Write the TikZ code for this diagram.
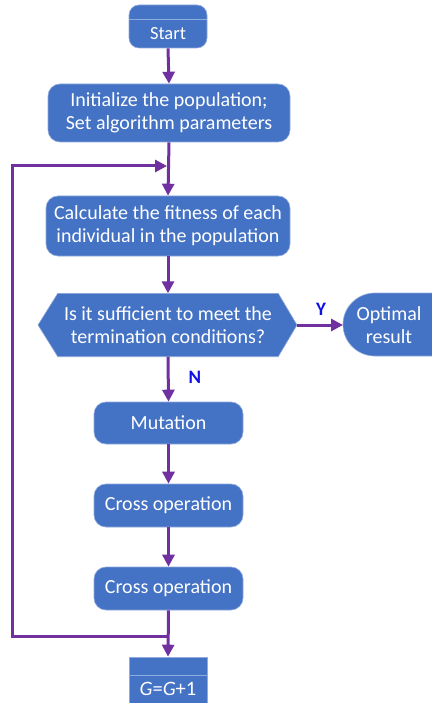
\documentclass[tikz,border=0pt]{standalone}
\usepackage{fontspec}
\setmainfont{Carlito}
\usetikzlibrary{arrows.meta}
\definecolor{boxblue}{HTML}{4472C4}
\definecolor{edgeblue}{HTML}{8FAADC}
\definecolor{arrowpurple}{HTML}{7030A0}
\definecolor{labblue}{HTML}{1010E8}
\tikzset{
  proc/.style={draw=edgeblue, line width=0.6pt, fill=boxblue, rounded corners=12pt,
    text=white, font=\fontsize{20}{23}\selectfont, align=center, inner sep=0pt},
  sqbox/.style={draw=edgeblue, line width=0.6pt, fill=boxblue, inner sep=0pt},
  wtxt/.style={text=white, font=\fontsize{20}{23}\selectfont, align=center, inner sep=0pt},
  arr/.style={draw=arrowpurple, line width=3pt, -{Triangle[length=12pt,width=12pt]}},
  yn/.style={text=labblue, font=\fontsize{19}{21}\selectfont\bfseries, inner sep=0pt}
}
\begin{document}
\begin{tikzpicture}[x=1pt,y=-1pt]
\useasboundingbox (0,0) rectangle (431,703);
% Start
\node[proc, rounded corners=10pt, minimum width=78pt, minimum height=43pt] (start) at (168,26.5) {};
\draw[edgeblue, line width=0.8pt] (start.west |- 0,19) -- (start.east |- 0,19);
\node[wtxt, font=\fontsize{18.5}{21}\selectfont] (startlbl) at (168,34) {Start};
% Init
\node[proc, minimum width=242pt, minimum height=58pt] (init) at (169,113)
  {Initialize the population;\\Set algorithm parameters};
% Calc
\node[proc, minimum width=244pt, minimum height=60pt] (calc) at (168,226)
  {Calculate the fitness of each\\individual in the population};
% Decision hexagon
\node[inner sep=0pt, minimum width=220pt, minimum height=63pt] (dec) at (168,325) {};
\coordinate (decL) at (38,325);
\coordinate (decR) at (297,325);
\fill[boxblue, draw=edgeblue, line width=0.6pt] (decL) -- (dec.north west) -- (dec.north east) -- (decR) -- (dec.south east) -- (dec.south west) -- cycle;
\node[wtxt] (dectxt) at (dec.center)
  {Is it sufficient to meet the\\termination conditions?};
% Optimal result
\coordinate (optL) at (343,325);
\fill[boxblue, draw=edgeblue, line width=0.6pt] (450,293) -- (375,293) arc[start angle=90, end angle=270, x radius=32pt, y radius=31.5pt] -- (450,356) -- cycle;
\node[wtxt] (opt) at (389,325) {Optimal\\result};
% Mutation and cross operations
\node[proc, minimum width=149pt, minimum height=42pt] (mut) at (168.5,423) {Mutation};
\node[proc, minimum width=149pt, minimum height=43pt] (cross1) at (168.5,505.5) {Cross operation};
\node[proc, minimum width=149pt, minimum height=43pt] (cross2) at (168.5,588.5) {Cross operation};
% G box
\node[sqbox, minimum width=78pt, minimum height=46pt] (gbox) at (168,680) {};
\draw[edgeblue, line width=0.8pt] (gbox.west |- 0,675) -- (gbox.east |- 0,675);
\node[wtxt, font=\fontsize{20.5}{22}\selectfont] (glbl) at (168,689) {\textit{G}=\textit{G}+1};
% Connectors
\coordinate (j1) at (168,636);
\coordinate (jl1) at (12,636);
\coordinate (jl2) at (12,166);
\coordinate (j2) at (167,166);
\draw[arr] (start.south) -- (init.north);
\draw[arr] (init.south) -- (calc.north);
\draw[arr] (calc.south) -- (dec.north);
\draw[arr] (decR) -- (optL);
\draw[arr] (dec.south) -- (mut.north);
\draw[arr] (mut.south) -- (cross1.north);
\draw[arr] (cross1.south) -- (cross2.north);
\draw[arr] (cross2.south) -- (gbox.north);
\draw[arr] (j1) -- (jl1) -- (jl2) -- (j2);
% Labels
\node[yn] (ylbl) at (321,309) {Y};
\node[yn] (nlbl) at (195,377) {N};
\end{tikzpicture}
\end{document}
